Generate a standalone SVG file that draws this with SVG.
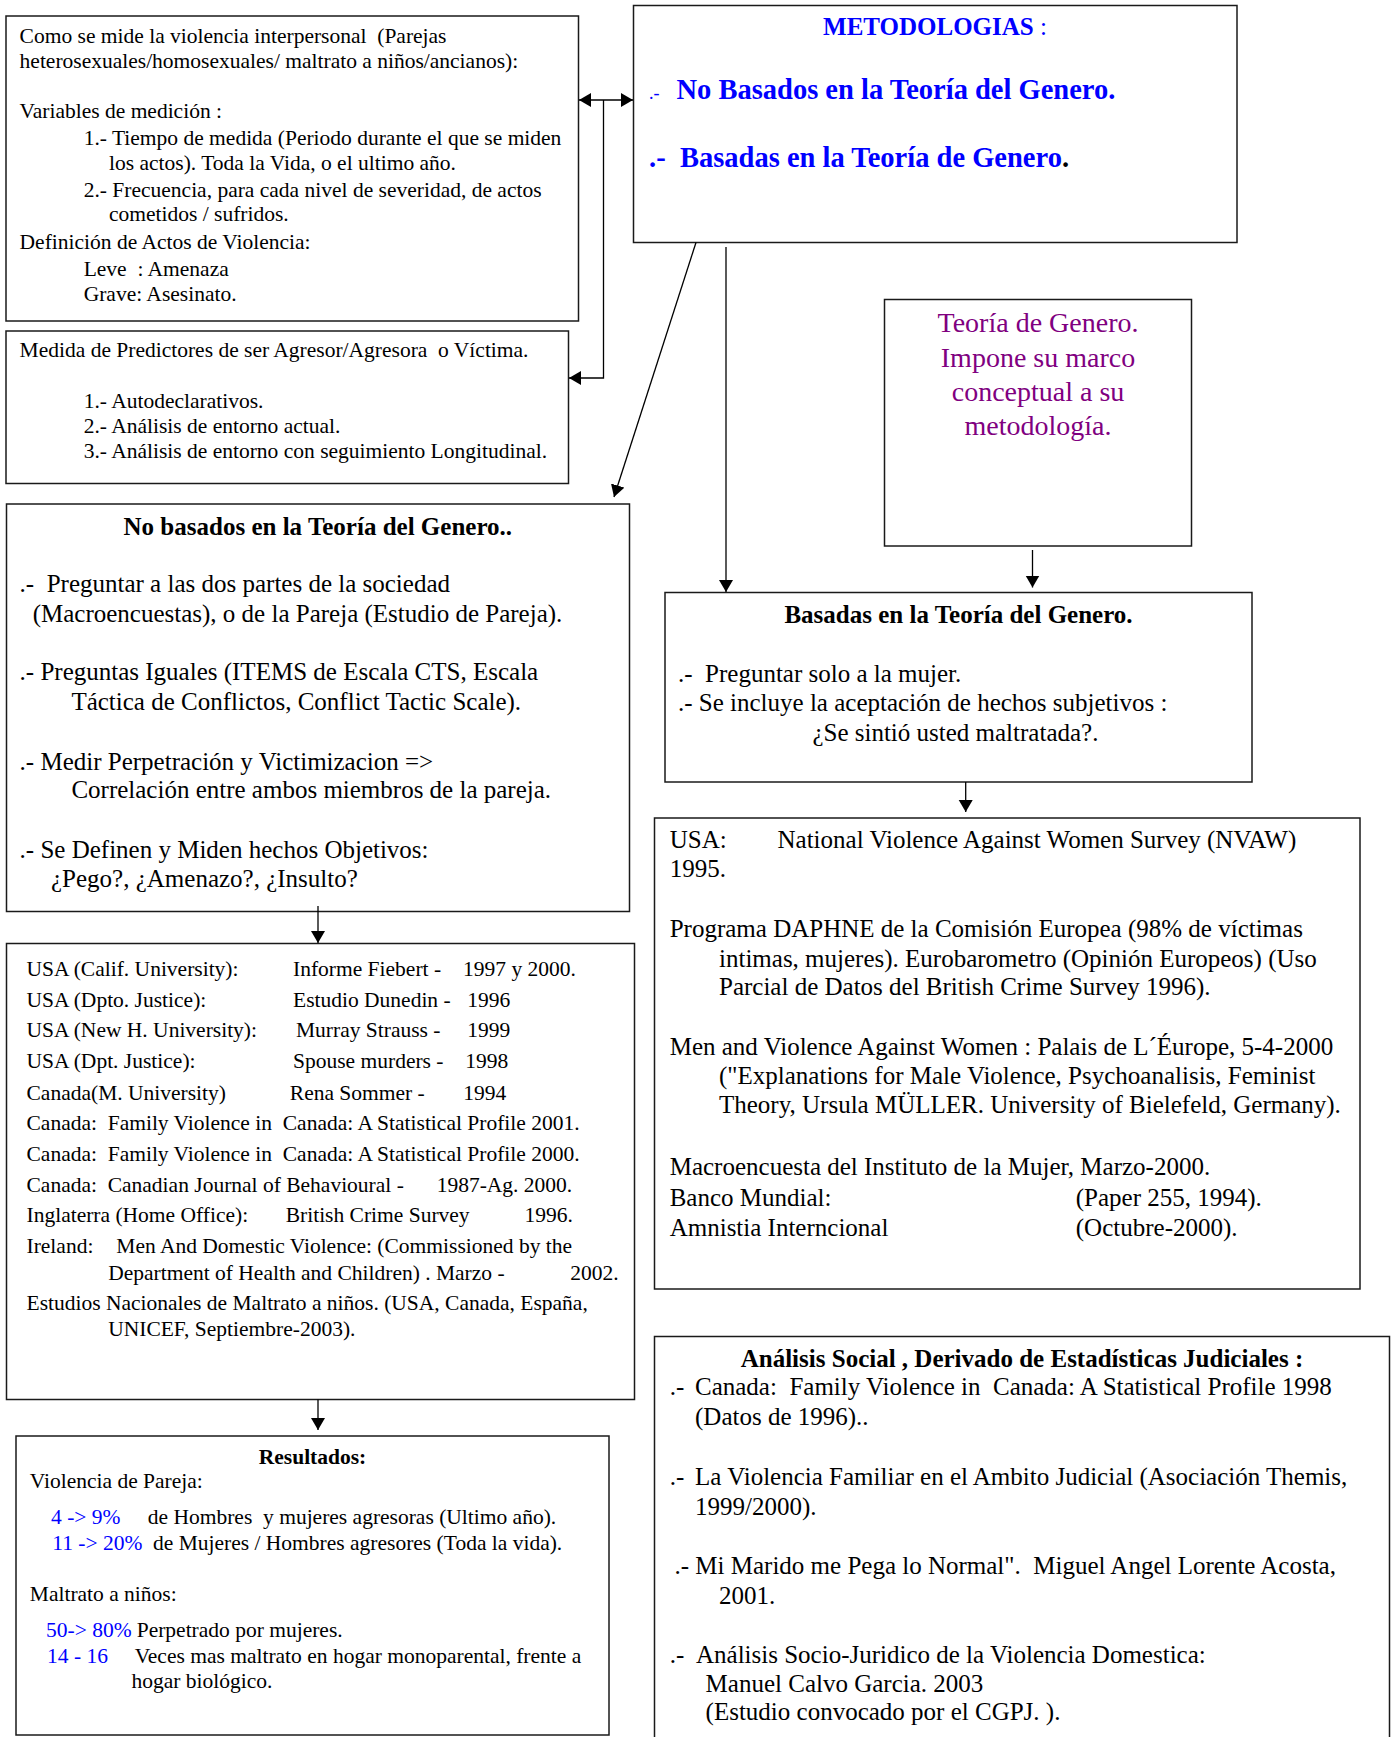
<svg xmlns="http://www.w3.org/2000/svg" width="1391" height="1737" viewBox="0 0 1391 1737" xml:space="preserve">
<style>
.box { fill: #fff; stroke: #1a1a1a; stroke-width: 1.5; }
text { font-family: "Liberation Serif", "Times New Roman", serif; fill: #000; white-space: pre; }
.s21 { font-size: 21.5px; }
.s25 { font-size: 25px; }
.s28 { font-size: 28px; }
.b { font-weight: bold; }
.blue { fill: #0000ff; }
.purple { fill: #800080; }
.c { text-anchor: middle; }
.conn path { stroke: #000; stroke-width: 1.3; fill: none; }
</style>
<defs>
<marker id="ah" markerUnits="userSpaceOnUse" markerWidth="13" markerHeight="15" refX="12" refY="7" orient="auto-start-reverse" viewBox="0 0 13 15">
<path d="M0,0 L12,7 L0,14 z" fill="#000"/>
</marker>
</defs>
<rect width="1391" height="1737" fill="#fff"/>

<g id="node-medida">
<rect class="box" x="6" y="16" width="572.5" height="305"/>
<text class="s21" x="19.6" y="43.3">Como se mide la violencia interpersonal  (Parejas</text>
<text class="s21" x="19.6" y="68.3">heterosexuales/homosexuales/ maltrato a niños/ancianos):</text>
<text class="s21" x="19.6" y="118.3">Variables de medición :</text>
<text class="s21" x="83.7" y="145">1.- Tiempo de medida (Periodo durante el que se miden</text>
<text class="s21" x="109" y="170">los actos). Toda la Vida, o el ultimo año.</text>
<text class="s21" x="83.7" y="196.7">2.- Frecuencia, para cada nivel de severidad, de actos</text>
<text class="s21" x="109" y="221">cometidos / sufridos.</text>
<text class="s21" x="19.6" y="249">Definición de Actos de Violencia:</text>
<text class="s21" x="83.7" y="276">Leve  : Amenaza</text>
<text class="s21" x="83.7" y="301">Grave: Asesinato.</text>
</g>

<g id="node-metodologias">
<rect class="box" x="633.5" y="5.5" width="603.5" height="237"/>
<text class="s25 blue c" x="935" y="35"><tspan class="b">METODOLOGIAS</tspan> :</text>
<text class="blue" style="font-size:18px" x="649" y="99">.-</text>
<text class="s28 b blue" style="font-size:28.5px" x="676.5" y="99">No Basados en la Teoría del Genero.</text>
<text class="s28 b blue" style="font-size:28.5px" x="649" y="166.7">.-</text>
<text class="s28 b blue" style="font-size:28.5px" x="680" y="166.7">Basadas en la Teoría de Genero<tspan fill="#000">.</tspan></text>
</g>

<g id="node-predictores">
<rect class="box" x="6" y="331" width="562.5" height="152.5"/>
<text class="s21" x="19.6" y="356.7">Medida de Predictores de ser Agresor/Agresora  o Víctima.</text>
<text class="s21" x="83.7" y="408.3">1.- Autodeclarativos.</text>
<text class="s21" x="83.7" y="433.3">2.- Análisis de entorno actual.</text>
<text class="s21" x="83.7" y="458.3">3.- Análisis de entorno con seguimiento Longitudinal.</text>
</g>

<g id="node-teoria">
<rect class="box" x="884.5" y="299.5" width="307" height="246.5"/>
<text class="s28 purple c" x="1038" y="332.3">Teoría de Genero.</text>
<text class="s28 purple c" x="1038" y="366.7">Impone su marco</text>
<text class="s28 purple c" x="1038" y="400.5">conceptual a su</text>
<text class="s28 purple c" x="1038" y="435">metodología.</text>
</g>

<g id="node-no-basados">
<rect class="box" x="6.5" y="504" width="623" height="407.5"/>
<text class="s25 b c" x="317.8" y="535">No basados en la Teoría del Genero..</text>
<text class="s25" x="19.6" y="591.7">.-  Preguntar a las dos partes de la sociedad</text>
<text class="s25" x="32.7" y="621.7">(Macroencuestas), o de la Pareja (Estudio de Pareja).</text>
<text class="s25" x="19.6" y="680">.- Preguntas Iguales (ITEMS de Escala CTS, Escala</text>
<text class="s25" x="71.4" y="710">Táctica de Conflictos, Conflict Tactic Scale).</text>
<text class="s25" x="19.6" y="770">.- Medir Perpetración y Victimizacion =&gt;</text>
<text class="s25" x="71.4" y="798.3">Correlación entre ambos miembros de la pareja.</text>
<text class="s25" x="19.6" y="858.3">.- Se Definen y Miden hechos Objetivos:</text>
<text class="s25" x="51" y="886.7">¿Pego?, ¿Amenazo?, ¿Insulto?</text>
</g>

<g id="node-basadas">
<rect class="box" x="665" y="592.5" width="587" height="189.5"/>
<text class="s25 b c" x="958.5" y="623.3">Basadas en la Teoría del Genero.</text>
<text class="s25" x="678" y="681.7">.-  Preguntar solo a la mujer.</text>
<text class="s25" x="678" y="710.7">.- Se incluye la aceptación de hechos subjetivos :</text>
<text class="s25" x="812.4" y="740.7">¿Se sintió usted maltratada?.</text>
</g>

<g id="node-encuestas-genero">
<rect class="box" x="654.5" y="818" width="705.5" height="471"/>
<text class="s25" x="669.7" y="848">USA:</text>
<text class="s25" x="777.5" y="848">National Violence Against Women Survey (NVAW)</text>
<text class="s25" x="669.7" y="877">1995.</text>
<text class="s25" x="669.7" y="936.5">Programa DAPHNE de la Comisión Europea (98% de víctimas</text>
<text class="s25" x="719" y="966.5">intimas, mujeres). Eurobarometro (Opinión Europeos) (Uso</text>
<text class="s25" x="719" y="995">Parcial de Datos del British Crime Survey 1996).</text>
<text class="s25" x="669.7" y="1055">Men and Violence Against Women : Palais de L´Éurope, 5-4-2000</text>
<text class="s25" x="719" y="1084">("Explanations for Male Violence, Psychoanalisis, Feminist</text>
<text class="s25" x="719" y="1113">Theory, Ursula MÜLLER. University of Bielefeld, Germany).</text>
<text class="s25" x="669.7" y="1175">Macroencuesta del Instituto de la Mujer, Marzo-2000.</text>
<text class="s25" x="669.7" y="1205.5">Banco Mundial:</text>
<text class="s25" x="1075.8" y="1205.5">(Paper 255, 1994).</text>
<text class="s25" x="669.7" y="1236">Amnistia Interncional</text>
<text class="s25" x="1075.8" y="1236">(Octubre-2000).</text>
</g>

<g id="node-estudios">
<rect class="box" x="6.5" y="943.5" width="628" height="456"/>
<text class="s21" x="26.5" y="976">USA (Calif. University):</text>
<text class="s21" x="293" y="976">Informe Fiebert -</text>
<text class="s21" x="463" y="976">1997 y 2000.</text>
<text class="s21" x="26.5" y="1006.5">USA (Dpto. Justice):</text>
<text class="s21" x="293" y="1006.5">Estudio Dunedin -</text>
<text class="s21" x="467.3" y="1006.5">1996</text>
<text class="s21" x="26.5" y="1037.3">USA (New H. University):</text>
<text class="s21" x="296" y="1037.3">Murray Strauss -</text>
<text class="s21" x="467.3" y="1037.3">1999</text>
<text class="s21" x="26.5" y="1068.3">USA (Dpt. Justice):</text>
<text class="s21" x="293" y="1068.3">Spouse murders -</text>
<text class="s21" x="465.3" y="1068.3">1998</text>
<text class="s21" x="26.5" y="1099.5">Canada(M. University)</text>
<text class="s21" x="289.8" y="1099.5">Rena Sommer -</text>
<text class="s21" x="463.3" y="1099.5">1994</text>
<text class="s21" x="26.5" y="1130">Canada:  Family Violence in  Canada: A Statistical Profile 2001.</text>
<text class="s21" x="26.5" y="1160.7">Canada:  Family Violence in  Canada: A Statistical Profile 2000.</text>
<text class="s21" x="26.5" y="1191.7">Canada:  Canadian Journal of Behavioural -</text>
<text class="s21" x="436.7" y="1191.7">1987-Ag. 2000.</text>
<text class="s21" x="26.5" y="1221.7">Inglaterra (Home Office):</text>
<text class="s21" x="285.7" y="1221.7">British Crime Survey</text>
<text class="s21" x="524.5" y="1221.7">1996.</text>
<text class="s21" x="26.5" y="1253.3">Ireland:</text>
<text class="s21" x="116.3" y="1253.3">Men And Domestic Violence: (Commissioned by the</text>
<text class="s21" x="108.2" y="1279.5">Department of Health and Children) . Marzo -</text>
<text class="s21" x="570.2" y="1279.5">2002.</text>
<text class="s21" x="26.5" y="1309.5">Estudios Nacionales de Maltrato a niños. (USA, Canada, España,</text>
<text class="s21" x="108.2" y="1335.5">UNICEF, Septiembre-2003).</text>
</g>

<g id="node-resultados">
<rect class="box" x="16" y="1436" width="593" height="299"/>
<text class="s21 b c" x="312.5" y="1464">Resultados:</text>
<text class="s21" x="29.8" y="1488.3">Violencia de Pareja:</text>
<text class="s21 blue" x="51" y="1524.3">4 -&gt; 9%</text>
<text class="s21" x="147.8" y="1524.3">de Hombres  y mujeres agresoras (Ultimo año).</text>
<text class="s21 blue" x="52.2" y="1550">11 -&gt; 20%</text>
<text class="s21" x="153" y="1550">de Mujeres / Hombres agresores (Toda la vida).</text>
<text class="s21" x="29.8" y="1600.7">Maltrato a niños:</text>
<text class="s21 blue" x="46.1" y="1636.7">50-&gt; 80%</text>
<text class="s21" x="136.7" y="1636.7">Perpetrado por mujeres.</text>
<text class="s21 blue" x="47" y="1662.7">14 - 16</text>
<text class="s21" x="134.7" y="1662.7">Veces mas maltrato en hogar monoparental, frente a</text>
<text class="s21" x="131.4" y="1688.3">hogar biológico.</text>
</g>

<g id="node-analisis-social">
<rect class="box" x="654.5" y="1336.5" width="735" height="404"/>
<text class="s25 b c" x="1022" y="1366.5">Análisis Social , Derivado de Estadísticas Judiciales :</text>
<text class="s25" x="669.7" y="1395">.-</text>
<text class="s25" x="695" y="1395">Canada:  Family Violence in  Canada: A Statistical Profile 1998</text>
<text class="s25" x="695" y="1425">(Datos de 1996)..</text>
<text class="s25" x="669.7" y="1484.5">.-</text>
<text class="s25" x="695" y="1484.5">La Violencia Familiar en el Ambito Judicial (Asociación Themis,</text>
<text class="s25" x="695" y="1514.5">1999/2000).</text>
<text class="s25" x="674.5" y="1574">.- Mi Marido me Pega lo Normal".  Miguel Angel Lorente Acosta,</text>
<text class="s25" x="719" y="1604">2001.</text>
<text class="s25" x="669.7" y="1663">.-</text>
<text class="s25" x="696" y="1663">Análisis Socio-Juridico de la Violencia Domestica:</text>
<text class="s25" x="705.6" y="1691.7">Manuel Calvo Garcia. 2003</text>
<text class="s25" x="705.6" y="1720">(Estudio convocado por el CGPJ. ).</text>
</g>

<g id="connectors" class="conn">
<path d="M579,100 L633,100" marker-start="url(#ah)" marker-end="url(#ah)"/>
<path d="M603.5,100 L603.5,378 L569,378" marker-end="url(#ah)"/>
<path d="M696,242.5 L614,497" marker-end="url(#ah)"/>
<path d="M726,247 L726,592" marker-end="url(#ah)"/>
<path d="M1032.5,550 L1032.5,587.5" marker-end="url(#ah)"/>
<path d="M965.7,782 L965.7,812" marker-end="url(#ah)"/>
<path d="M318,906 L318,943" marker-end="url(#ah)"/>
<path d="M318,1399.5 L318,1430" marker-end="url(#ah)"/>
</g>
</svg>
